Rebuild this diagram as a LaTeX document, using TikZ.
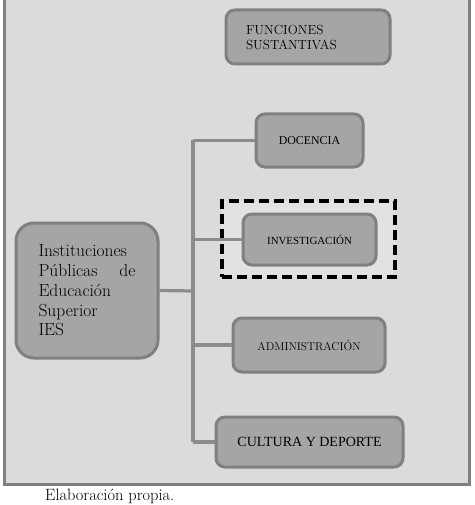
\documentclass[tikz,border=0pt]{standalone}
\usepackage{fontspec}
\newfontfamily\tiempos{Liberation Serif}
\definecolor{fondoGris}{HTML}{DBDBDB}
\definecolor{cajaGris}{HTML}{A5A5A5}
\definecolor{bordeGris}{HTML}{808080}
\definecolor{lineaGris}{HTML}{8C8C8C}
\begin{document}
\begin{tikzpicture}[x=1pt,y=-1pt,
  caja/.style={draw=bordeGris,fill=cajaGris,line width=3pt,rounded corners=9pt,inner sep=0pt,text=black},
  rama/.style={draw=lineaGris,line width=3.2pt}]
\useasboundingbox (0,0) rectangle (474,505);
\draw[fill=fondoGris,draw=bordeGris,line width=3pt] (4,-3) rectangle (469.5,484.5);
\node[caja,minimum width=164pt,minimum height=54pt,text width=124pt,align=left,font=\fontsize{13.2}{15}\selectfont] (fun) at (308,37) {FUNCIONES\\SUSTANTIVAS};
\node[caja,minimum width=107pt,minimum height=53pt,font=\tiempos\fontsize{11.9}{13}\selectfont] (doc) at (309.5,140.5) {DOCENCIA};
\node[draw=black,line width=3.5pt,dash pattern=on 10pt off 5pt,fill=fondoGris!80!white,minimum width=173pt,minimum height=76pt] (foco) at (308.5,239) {};
\node[caja,minimum width=133pt,minimum height=51pt,font=\tiempos\fontsize{10.9}{12}\selectfont] (inv) at (309.5,239.5) {INVESTIGACIÓN};
\node[caja,rounded corners=18pt,minimum width=142pt,minimum height=135pt,text width=97pt,align=left,font=\fontsize{17.5}{19.7}\selectfont] (ies) at (87,290.5) {Instituciones\\Públicas \hfill de\\Educación\\Superior\\IES};
\node[caja,minimum width=152pt,minimum height=54pt,font=\fontsize{11.4}{13}\selectfont] (adm) at (309,345) {ADMINISTRACIÓN};
\node[caja,minimum width=187pt,minimum height=50pt,font=\tiempos\fontsize{14}{16}\selectfont] (cul) at (309.5,442) {CULTURA Y DEPORTE};
\coordinate (tronco) at (193,291);
\draw[rama] (ies.east) -- (tronco);
\draw[rama] (tronco |- doc.west) -- (tronco |- cul.west);
\draw[rama] (tronco |- doc.west) -- (doc.west);
\draw[rama] (tronco |- inv.west) -- (inv.west);
\draw[rama] (tronco |- adm.west) -- (adm.west);
\draw[rama] (tronco |- cul.west) -- (cul.west);
\node[font=\fontsize{16.4}{18}\selectfont,anchor=west,inner sep=0pt] (nota) at (45,496) {Elaboración propia.};
\end{tikzpicture}
\end{document}
